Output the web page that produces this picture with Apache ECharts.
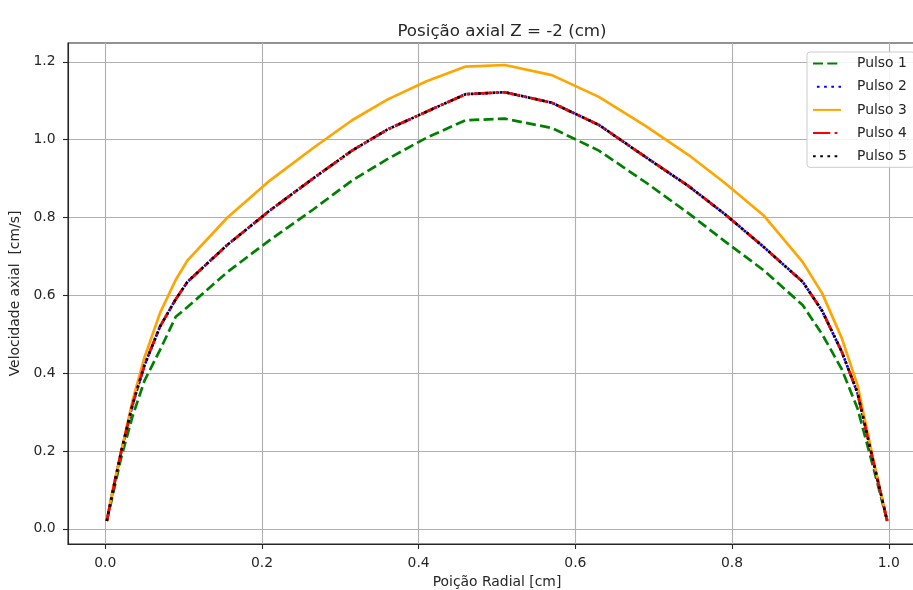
<!DOCTYPE html>
<html>
<head>
<meta charset="utf-8">
<script src="https://cdn.jsdelivr.net/npm/echarts@6/dist/echarts.min.js"></script>
<style>
  html, body { margin: 0; padding: 0; background: #fff; }
  #chart { width: 913px; height: 590px; }
</style>
</head>
<body>
<div id="chart"></div>
<script>
// Radial positions (cm)
const radial = [0.002, 0.01, 0.02, 0.035, 0.05, 0.07, 0.09, 0.105, 0.156, 0.21, 0.265, 0.315, 0.36, 0.41,
                0.46, 0.51, 0.57, 0.63, 0.69, 0.745, 0.79, 0.84, 0.89, 0.915, 0.94, 0.96, 0.98, 0.998];

// Axial velocity per pulse (cm/s)
const pulso1 = [0.02, 0.09, 0.18, 0.29, 0.38, 0.46, 0.545, 0.57, 0.66, 0.742, 0.82, 0.895, 0.95, 1.005,
                1.05, 1.054, 1.03, 0.972, 0.89, 0.81, 0.74, 0.665, 0.575, 0.5, 0.41, 0.31, 0.16, 0.02];
const pulso2 = [0.02, 0.10, 0.195, 0.32, 0.42, 0.52, 0.59, 0.635, 0.73, 0.818, 0.90, 0.972, 1.026, 1.072,
                1.117, 1.122, 1.095, 1.038, 0.955, 0.88, 0.81, 0.725, 0.635, 0.56, 0.455, 0.35, 0.175, 0.02];
const pulso3 = [0.02, 0.105, 0.195, 0.33, 0.44, 0.555, 0.64, 0.69, 0.80, 0.895, 0.978, 1.05, 1.103, 1.15,
                1.188, 1.192, 1.166, 1.11, 1.035, 0.96, 0.89, 0.806, 0.686, 0.605, 0.49, 0.37, 0.18, 0.02];
const pulso4 = [0.02, 0.10, 0.195, 0.32, 0.42, 0.52, 0.59, 0.635, 0.73, 0.818, 0.90, 0.972, 1.026, 1.072,
                1.117, 1.122, 1.095, 1.038, 0.955, 0.88, 0.81, 0.725, 0.635, 0.56, 0.455, 0.35, 0.175, 0.02];
const pulso5 = [0.02, 0.10, 0.195, 0.32, 0.42, 0.52, 0.59, 0.635, 0.73, 0.818, 0.90, 0.972, 1.026, 1.072,
                1.117, 1.122, 1.095, 1.038, 0.955, 0.88, 0.81, 0.725, 0.635, 0.56, 0.455, 0.35, 0.175, 0.02];

const xTicks = [0.0, 0.2, 0.4, 0.6, 0.8, 1.0];
const yTicks = [0.0, 0.2, 0.4, 0.6, 0.8, 1.0, 1.2];

const FONT = 'DejaVu Sans';
const TXT = '#262626';
const LW = 2.7;

const pair = ys => radial.map((x, i) => [x, ys[i]]);

function lineSeries(name, ys, color, type, offset) {
  return {
    name: name,
    type: 'line',
    data: pair(ys),
    showSymbol: false,
    symbol: 'none',
    smooth: false,
    animation: false,
    clip: true,
    lineStyle: { color: color, width: LW, type: type, dashOffset: offset || 0, cap: 'butt', join: 'round' },
    itemStyle: { color: color },
    emphasis: { disabled: true }
  };
}

const chart = echarts.init(document.getElementById('chart'), null, { renderer: 'canvas' });
chart.setOption({
  backgroundColor: '#ffffff',
  animation: false,
  title: {
    text: 'Posição axial Z = -2 (cm)',
    left: 497, textAlign: 'center', top: 18,
    textStyle: { fontFamily: FONT, fontSize: 16.7, fontWeight: 'normal', color: TXT }
  },
  grid: {
    left: 68, width: 858, top: 43, bottom: 46,
    containLabel: false,
    outerBoundsMode: 'none',
    show: true, borderColor: '#262626', borderWidth: 1.1, backgroundColor: 'transparent'
  },
  legend: {
    left: 807, top: 52,
    orient: 'vertical',
    itemWidth: 28, itemHeight: 14, itemGap: 9.2,
    padding: [4.5, 8, 4, 5],
    backgroundColor: 'rgba(255,255,255,0.85)',
    borderColor: '#cccccc', borderWidth: 1, borderRadius: 3,
    selectedMode: false,
    itemStyle: { color: 'rgba(0,0,0,0)', borderWidth: 0, opacity: 0 },
    textStyle: { fontFamily: FONT, fontSize: 13.9, color: TXT, padding: [0, 0, 0, 11] },
    data: ['Pulso 1', 'Pulso 2', 'Pulso 3', 'Pulso 4', 'Pulso 5']
  },
  xAxis: {
    type: 'value',
    min: -0.0475, max: 1.0475,
    name: 'Poição Radial [cm]',
    nameLocation: 'middle', nameGap: 31,
    nameTextStyle: { fontFamily: FONT, fontSize: 13.9, color: TXT },
    axisLine: { show: true, onZero: false, lineStyle: { color: '#262626', width: 1.1 } },
    axisTick: { show: true, length: 5, inside: false, customValues: xTicks, lineStyle: { color: '#262626', width: 1.1 } },
    axisLabel: { customValues: xTicks, margin: 12, fontFamily: FONT, fontSize: 13.9, color: TXT,
                 formatter: v => v.toFixed(1) },
    splitLine: { show: true, lineStyle: { color: '#b0b0b0', width: 1.1 } }
  },
  yAxis: {
    type: 'value',
    min: -0.039, max: 1.2485,
    name: 'Velocidade axial  [cm/s]',
    nameLocation: 'middle', nameGap: 43,
    nameTextStyle: { fontFamily: FONT, fontSize: 13.9, color: TXT },
    axisLine: { show: true, onZero: false, lineStyle: { color: '#262626', width: 1.1 } },
    axisTick: { show: true, length: 5, inside: false, customValues: yTicks, lineStyle: { color: '#262626', width: 1.1 } },
    axisLabel: { customValues: yTicks, margin: 12.5, fontFamily: FONT, fontSize: 13.9, color: TXT,
                 formatter: v => v.toFixed(1) },
    splitLine: { show: true, lineStyle: { color: '#b0b0b0', width: 1.1 } }
  },
  series: [
    lineSeries('Pulso 1', pulso1, '#008000', [10, 4.3]),
    lineSeries('Pulso 2', pulso2, '#0000ff', [2.7, 4.5], 3.3),
    lineSeries('Pulso 3', pulso3, '#ffa500', 'solid'),
    lineSeries('Pulso 4', pulso4, '#ff0000', [17.3, 4.3, 2.7, 4.3]),
    lineSeries('Pulso 5', pulso5, '#000000', [2.7, 4.5])
  ]
});
</script>
</body>
</html>
